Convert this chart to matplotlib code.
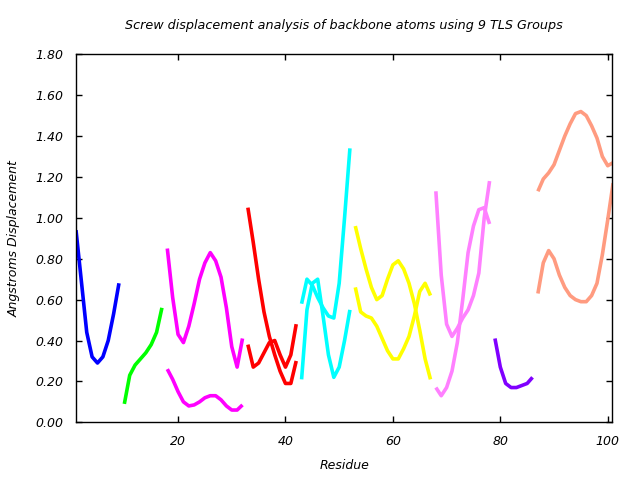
import matplotlib
matplotlib.use("Agg")
import matplotlib.pyplot as plt
from matplotlib.ticker import FixedLocator, FormatStrFormatter

title = "Screw displacement analysis of backbone atoms using 9 TLS Groups"
xlabel = "Residue"
ylabel = "Angstroms Displacement"

# group residues
res_g1 = [1, 2, 3, 4, 5, 6, 7, 8, 9]
g1_a = [0.94, 0.69, 0.44, 0.32, 0.29, 0.32, 0.40, 0.53, 0.68]

res_g2 = [10, 11, 12, 13, 14, 15, 16, 17]
g2_a = [0.09, 0.23, 0.28, 0.31, 0.34, 0.38, 0.44, 0.56]

res_g3 = [18, 19, 20, 21, 22, 23, 24, 25, 26, 27, 28, 29, 30, 31, 32]
g3_a = [0.85, 0.61, 0.43, 0.39, 0.47, 0.58, 0.70, 0.78, 0.83, 0.79, 0.71, 0.56, 0.37, 0.27, 0.41]
g3_b = [0.26, 0.21, 0.15, 0.10, 0.08, 0.085, 0.10, 0.12, 0.13, 0.13, 0.11, 0.08, 0.06, 0.06, 0.085]

res_g4 = [33, 34, 35, 36, 37, 38, 39, 40, 41, 42]
g4_a = [1.05, 0.88, 0.70, 0.54, 0.42, 0.33, 0.25, 0.19, 0.19, 0.30]
g4_b = [0.38, 0.27, 0.29, 0.34, 0.39, 0.40, 0.33, 0.27, 0.33, 0.48]

res_g5 = [43, 44, 45, 46, 47, 48, 49, 50, 51, 52]
g5_a = [0.58, 0.70, 0.67, 0.61, 0.56, 0.52, 0.51, 0.68, 1.00, 1.34]
g5_b = [0.21, 0.55, 0.68, 0.70, 0.52, 0.33, 0.22, 0.27, 0.40, 0.55]

res_g6 = [53, 54, 55, 56, 57, 58, 59, 60, 61, 62, 63, 64, 65, 66, 67]
g6_a = [0.96, 0.85, 0.75, 0.66, 0.60, 0.62, 0.70, 0.77, 0.79, 0.75, 0.68, 0.58, 0.45, 0.31, 0.21]
g6_b = [0.66, 0.54, 0.52, 0.51, 0.47, 0.41, 0.35, 0.31, 0.31, 0.36, 0.42, 0.52, 0.64, 0.68, 0.62]

res_g7 = [68, 69, 70, 71, 72, 73, 74, 75, 76, 77, 78]
g7_a = [1.13, 0.72, 0.48, 0.42, 0.46, 0.51, 0.55, 0.62, 0.73, 1.00, 1.18]
g7_b = [0.17, 0.13, 0.17, 0.25, 0.39, 0.60, 0.83, 0.96, 1.04, 1.05, 0.97]

res_g8 = [79, 80, 81, 82, 83, 84, 85, 86]
g8_a = [0.41, 0.27, 0.19, 0.17, 0.17, 0.18, 0.19, 0.22]

res_g9 = [87, 88, 89, 90, 91, 92, 93, 94, 95, 96, 97, 98, 99, 100, 101]
g9_a = [1.13, 1.19, 1.22, 1.26, 1.33, 1.40, 1.46, 1.51, 1.52, 1.50, 1.45, 1.39, 1.30, 1.255, 1.27]
g9_b = [0.63, 0.78, 0.84, 0.80, 0.72, 0.66, 0.62, 0.60, 0.59, 0.59, 0.62, 0.68, 0.82, 0.99, 1.17]

x_ticks = [20, 40, 60, 80, 100]
y_ticks = [0.0, 0.2, 0.4, 0.6, 0.8, 1.0, 1.2, 1.4, 1.6, 1.8]

groups = [
    (res_g1, [g1_a], "#0000ff"),
    (res_g2, [g2_a], "#00ff00"),
    (res_g3, [g3_a, g3_b], "#ff00ff"),
    (res_g4, [g4_a, g4_b], "#ff0000"),
    (res_g5, [g5_a, g5_b], "#00ffff"),
    (res_g6, [g6_a, g6_b], "#ffff00"),
    (res_g7, [g7_a, g7_b], "#ff80ff"),
    (res_g8, [g8_a], "#8000ff"),
    (res_g9, [g9_a, g9_b], "#ff9b80"),
]

plt.rcParams['font.family'] = ['DejaVu Sans']
fig = plt.figure(figsize=(6.4, 4.8), dpi=100)
ax = fig.add_axes([76/640, 1-422.3/480, (612.3-76)/640, (422.3-54.3)/480])

for res, series, col in groups:
    for s in series:
        ax.plot(res, s, color=col, lw=2.6, solid_capstyle='butt', solid_joinstyle='round')

ax.set_xlim(1, 100.85)
ax.set_ylim(0, 1.8)
ax.xaxis.set_major_locator(FixedLocator(x_ticks))
ax.yaxis.set_major_locator(FixedLocator(y_ticks))
ax.yaxis.set_major_formatter(FormatStrFormatter("%.2f"))
ax.tick_params(direction='in', length=4, width=1, top=True, right=True,
               labelsize=9, pad=9)
for lab in ax.get_xticklabels() + ax.get_yticklabels():
    lab.set_fontstyle('italic')
for sp in ax.spines.values():
    sp.set_linewidth(1)

fig.text(344/640, 1-25/480, title, ha='center', va='center', fontsize=9.2, style='italic')
ax.set_xlabel(xlabel, fontsize=9, style='italic', labelpad=8)
ax.set_ylabel(ylabel, fontsize=9, style='italic', labelpad=11)

fig.savefig("out.png", dpi=100)
